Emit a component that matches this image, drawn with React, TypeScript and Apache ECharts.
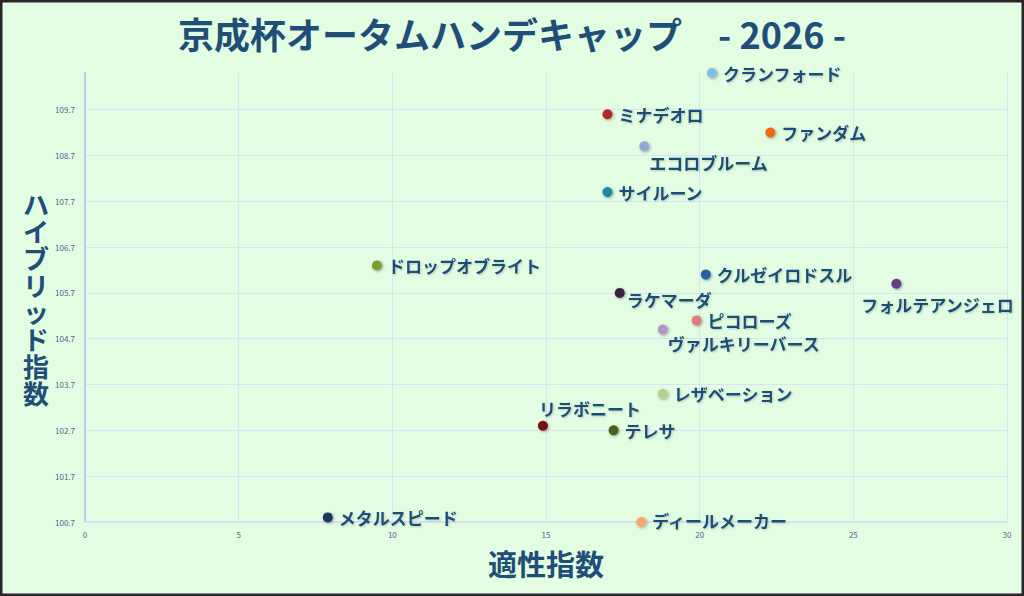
import { useEffect, useRef } from "react";
import * as echarts from "echarts";

const TITLE = "京成杯オータムハンデキャップ　- 2026 -";
const X_NAME = "適性指数";
const Y_NAME = "ハイブリッド指数";

const horses = [
  "クランフォード",
  "ミナデオロ",
  "ファンダム",
  "エコロブルーム",
  "サイルーン",
  "ドロップオブライト",
  "クルゼイロドスル",
  "フォルテアンジェロ",
  "ラケマーダ",
  "ピコローズ",
  "ヴァルキリーバース",
  "レザベーション",
  "リラボニート",
  "テレサ",
  "ディールメーカー",
  "メタルスピード",
];
// 適性指数
const fitness = [20.4, 17.0, 22.3, 18.2, 17.0, 9.5, 20.2, 26.4, 17.4, 19.9, 18.8, 18.8, 14.9, 17.2, 18.1, 7.9];
// ハイブリッド指数
const hybrid = [110.5, 109.6, 109.2, 108.9, 107.9, 106.3, 106.1, 105.9, 105.7, 105.1, 104.9, 103.5, 102.8, 102.7, 100.7, 100.8];
const colors = [
  "#7ec3dd", "#b02a2a", "#f06a10", "#8fa7d9", "#1f8aa3", "#7f9a2e", "#2a5fa5", "#653c83",
  "#3b1d45", "#e07b7b", "#b294c9", "#b9cf8c", "#780f14", "#4b5f1c", "#f7a46f", "#1e3860",
];
// ラベル位置の微調整（既定は点の右）
const labelOffsets: Record<string, number[]> = {
  エコロブルーム: [-6, 16],
  フォルテアンジェロ: [-46, 21],
  ヴァルキリーバース: [-6, 14],
  ラケマーダ: [-4, 7],
  リラボニート: [-15, -17],
  ディールメーカー: [0, -2],
};

const FONT = "'Noto Sans CJK JP', 'Noto Sans', sans-serif";
const NAVY = "#1f4e79";

export default function App() {
  const chartRef = useRef<HTMLDivElement>(null);

  useEffect(() => {
    document.body.style.margin = "0";
    if (!chartRef.current) return;
    const chart = echarts.init(chartRef.current, null, { renderer: "svg" });

    const data = horses.map((name, i) => ({
      name,
      value: [fitness[i], hybrid[i]],
      itemStyle: { color: colors[i] },
      label: labelOffsets[name] ? { offset: labelOffsets[name] } : undefined,
    }));

    chart.setOption({
      animation: false,
      backgroundColor: "#e3fde2",
      textStyle: { fontFamily: FONT },
      title: {
        text: TITLE,
        left: "center",
        top: 10,
        textStyle: { fontFamily: FONT, fontSize: 36, fontWeight: "bold", color: NAVY },
      },
      grid: { left: 85, right: 17, top: 73, bottom: 74 },
      xAxis: {
        type: "value",
        min: 0,
        max: 30,
        interval: 5,
        name: X_NAME,
        nameLocation: "middle",
        nameGap: 26,
        nameTextStyle: { fontFamily: FONT, fontSize: 29, fontWeight: "bold", color: NAVY },
        axisLine: { show: true, lineStyle: { color: "#d6e0f0", width: 2 } },
        axisTick: { show: false },
        axisLabel: { fontSize: 8, color: "#4a6690", margin: 8 },
        splitLine: { show: true, lineStyle: { color: "#d9e1f4", width: 1 } },
      },
      yAxis: {
        type: "value",
        min: 100.7,
        max: 110.5,
        interval: 1,
        name: Y_NAME.split("").join("\n"),
        nameLocation: "middle",
        nameRotate: 0,
        nameGap: 36,
        nameTextStyle: {
          fontFamily: FONT,
          fontSize: 26,
          lineHeight: 27,
          fontWeight: "bold",
          color: NAVY,
          align: "right",
        },
        axisLine: { show: true, lineStyle: { color: "#b8cdea", width: 2 } },
        axisTick: { show: false },
        axisLabel: {
          fontSize: 8,
          color: "#4a6690",
          margin: 10,
          showMaxLabel: false,
          formatter: (v: number) => v.toFixed(1),
        },
        splitLine: { show: true, showMaxLine: false, lineStyle: { color: "#d9e1f4", width: 1 } },
      },
      graphic: [
        {
          type: "rect",
          shape: { x: 1, y: 1, width: 1022, height: 594 },
          style: { fill: "none", stroke: "#262626", lineWidth: 3 },
          silent: true,
          z: 100,
        },
      ],
      series: [
        {
          type: "scatter",
          symbolSize: 10,
          data,
          itemStyle: {
            opacity: 1,
            shadowBlur: 3,
            shadowColor: "rgba(0,0,0,0.35)",
            shadowOffsetX: 1,
            shadowOffsetY: 1,
          },
          label: {
            show: true,
            position: "right",
            distance: 6,
            formatter: "{b}",
            fontFamily: FONT,
            fontSize: 17,
            fontWeight: "bold",
            color: NAVY,
            textShadowColor: "rgba(0,0,0,0.2)",
            textShadowBlur: 2,
            textShadowOffsetX: 1,
            textShadowOffsetY: 1,
          },
        },
      ],
    });

    return () => {
      chart.dispose();
    };
  }, []);

  return <div ref={chartRef} style={{ width: "1024px", height: "596px" }} />;
}
